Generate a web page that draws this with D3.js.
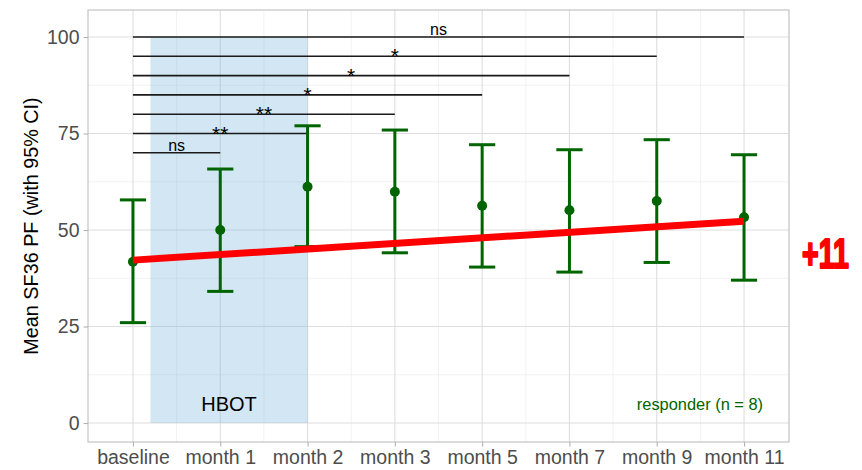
<!DOCTYPE html>
<html>
<head>
<meta charset="utf-8">
<script src="https://cdn.jsdelivr.net/npm/d3@7"></script>
<style>
  html, body { margin: 0; padding: 0; background: #fff; }
  svg { display: block; font-family: "Liberation Sans", Arial, Helvetica, sans-serif; }
</style>
</head>
<body>
<svg id="chart" width="862" height="470"></svg>
<script>
// ---- data ----
const categories = ["baseline", "month 1", "month 2", "month 3", "month 5", "month 7", "month 9", "month 11"];
const means = [41.8, 50.0, 61.2, 59.9, 56.3, 55.1, 57.5, 53.3];
const lower = [26.0, 34.1, 45.7, 44.1, 40.4, 39.1, 41.6, 37.0];
const upper = [57.8, 65.8, 77.0, 75.9, 72.1, 70.8, 73.4, 69.5];
const trendCats = ["baseline", "month 11"];
const trendValues = [42.2, 52.3];
const sigTargets = ["month 1", "month 2", "month 3", "month 5", "month 7", "month 9", "month 11"];
const sigY = [70, 75, 80, 85, 90, 95, 100];
const sigLabels = ["ns", "**", "**", "*", "*", "*", "ns"];
const yTicks = [0, 25, 50, 75, 100];
const yMinor = [12.5, 37.5, 62.5, 87.5];
const hbotRange = [0.2, 2];   // category index span of the HBOT period
const hbotY = [0, 100];
const changeLabel = "+11";
const groupLabel = "responder (n = 8)";
const yTitle = "Mean SF36 PF (with 95% CI)";

// ---- layout ----
const svg = d3.select("#chart");
const L = 88, R = 789, T = 10, B = 442;
const idx = c => categories.indexOf(c);
const x = d3.scaleLinear().domain([-0.515, categories.length - 1 + 0.515]).range([L, R]);
const y = d3.scaleLinear().domain([-4.92, 107]).range([B, T]);

const green = "#006400";

// grid minor
const g = svg.append("g");
g.selectAll(".ymin").data(yMinor).join("line")
  .attr("x1", L).attr("x2", R).attr("y1", d => y(d)).attr("y2", d => y(d))
  .attr("stroke", "#ececec").attr("stroke-width", 0.7);
const xMinor = d3.range(categories.length - 1).map(i => i + 0.5);
g.selectAll(".xmin").data(xMinor).join("line")
  .attr("y1", T).attr("y2", B).attr("x1", d => x(d)).attr("x2", d => x(d))
  .attr("stroke", "#ececec").attr("stroke-width", 0.7);
// grid major
g.selectAll(".ymaj").data(yTicks).join("line")
  .attr("x1", L).attr("x2", R).attr("y1", d => y(d)).attr("y2", d => y(d))
  .attr("stroke", "#dedede").attr("stroke-width", 1.1);
g.selectAll(".xmaj").data(categories).join("line")
  .attr("y1", T).attr("y2", B).attr("x1", (d, i) => x(i)).attr("x2", (d, i) => x(i))
  .attr("stroke", "#dedede").attr("stroke-width", 1.1);

// HBOT rect
svg.append("rect")
  .attr("x", x(hbotRange[0])).attr("width", x(hbotRange[1]) - x(hbotRange[0]))
  .attr("y", y(hbotY[1])).attr("height", y(hbotY[0]) - y(hbotY[1]))
  .attr("fill", "#6baed6").attr("fill-opacity", 0.3);

svg.append("text").attr("x", x(1.1)).attr("y", y(5) + 7)
  .attr("text-anchor", "middle").attr("font-size", 20).attr("fill", "#000").text("HBOT");

// significance bars
const sig = svg.append("g");
sigTargets.forEach((t, i) => {
  const x0 = x(0), x1 = x(idx(t)), yy = y(sigY[i]);
  sig.append("line").attr("x1", x0).attr("x2", x1).attr("y1", yy).attr("y2", yy)
    .attr("stroke", "#1a1a1a").attr("stroke-width", 1.6);
  const isStar = sigLabels[i].indexOf("*") >= 0;
  sig.append("text").attr("x", (x0 + x1) / 2)
    .attr("y", isStar ? yy + 7 : yy - 2)
    .attr("text-anchor", "middle")
    .attr("font-size", isStar ? 21 : 16)
    .attr("fill", "#000")
    .text(sigLabels[i]);
});

// error bars
const eb = svg.append("g").attr("stroke", green).attr("stroke-width", 3);
categories.forEach((c, i) => {
  const cx = x(i), hw = (x(0.15) - x(0));
  eb.append("line").attr("x1", cx).attr("x2", cx).attr("y1", y(lower[i])).attr("y2", y(upper[i]));
  eb.append("line").attr("x1", cx - hw).attr("x2", cx + hw).attr("y1", y(lower[i])).attr("y2", y(lower[i]));
  eb.append("line").attr("x1", cx - hw).attr("x2", cx + hw).attr("y1", y(upper[i])).attr("y2", y(upper[i]));
});
svg.append("g").selectAll("circle").data(means).join("circle")
  .attr("cx", (d, i) => x(i)).attr("cy", d => y(d)).attr("r", 5).attr("fill", green);

// trend line
svg.append("line")
  .attr("x1", x(idx(trendCats[0]))).attr("x2", x(idx(trendCats[1])))
  .attr("y1", y(trendValues[0])).attr("y2", y(trendValues[1]))
  .attr("stroke", "#ff0000").attr("stroke-width", 7);

// group label
svg.append("text").attr("x", 763).attr("y", 410).attr("text-anchor", "end")
  .attr("font-size", 16.4).attr("fill", green).text(groupLabel);

// panel border
svg.append("rect").attr("x", L).attr("y", T).attr("width", R - L).attr("height", B - T)
  .attr("fill", "none").attr("stroke", "#c4c4c4").attr("stroke-width", 1.2);

// axes
const yAxis = svg.append("g").attr("transform", `translate(${L},0)`)
  .call(d3.axisLeft(y).tickValues(yTicks).tickSize(4.5).tickPadding(4));
const xAxis = svg.append("g").attr("transform", `translate(0,${B})`)
  .call(d3.axisBottom(x).tickValues(d3.range(categories.length)).tickFormat(i => categories[i]).tickSize(4.5).tickPadding(4));
[yAxis, xAxis].forEach(a => {
  a.select(".domain").remove();
  a.selectAll(".tick line").attr("stroke", "#b3b3b3").attr("stroke-width", 1.1);
  a.selectAll(".tick text").attr("fill", "#4d4d4d").attr("font-size", 19.5)
    .attr("font-family", "'Liberation Sans', Arial, sans-serif");
});

// y title
svg.append("text").attr("transform", `translate(38,${(T + B) / 2}) rotate(-90)`)
  .attr("text-anchor", "middle").attr("font-size", 19.8).attr("fill", "#000").text(yTitle);

// change label (horizontally condensed heavy text)
svg.append("text").attr("transform", "translate(802,268) scale(0.68,1)")
  .attr("font-size", 42).attr("font-weight", 700).attr("fill", "#ff0000")
  .attr("stroke", "#ff0000").attr("stroke-width", 2.2).attr("stroke-linejoin", "round")
  .text(changeLabel);
</script>
</body>
</html>
